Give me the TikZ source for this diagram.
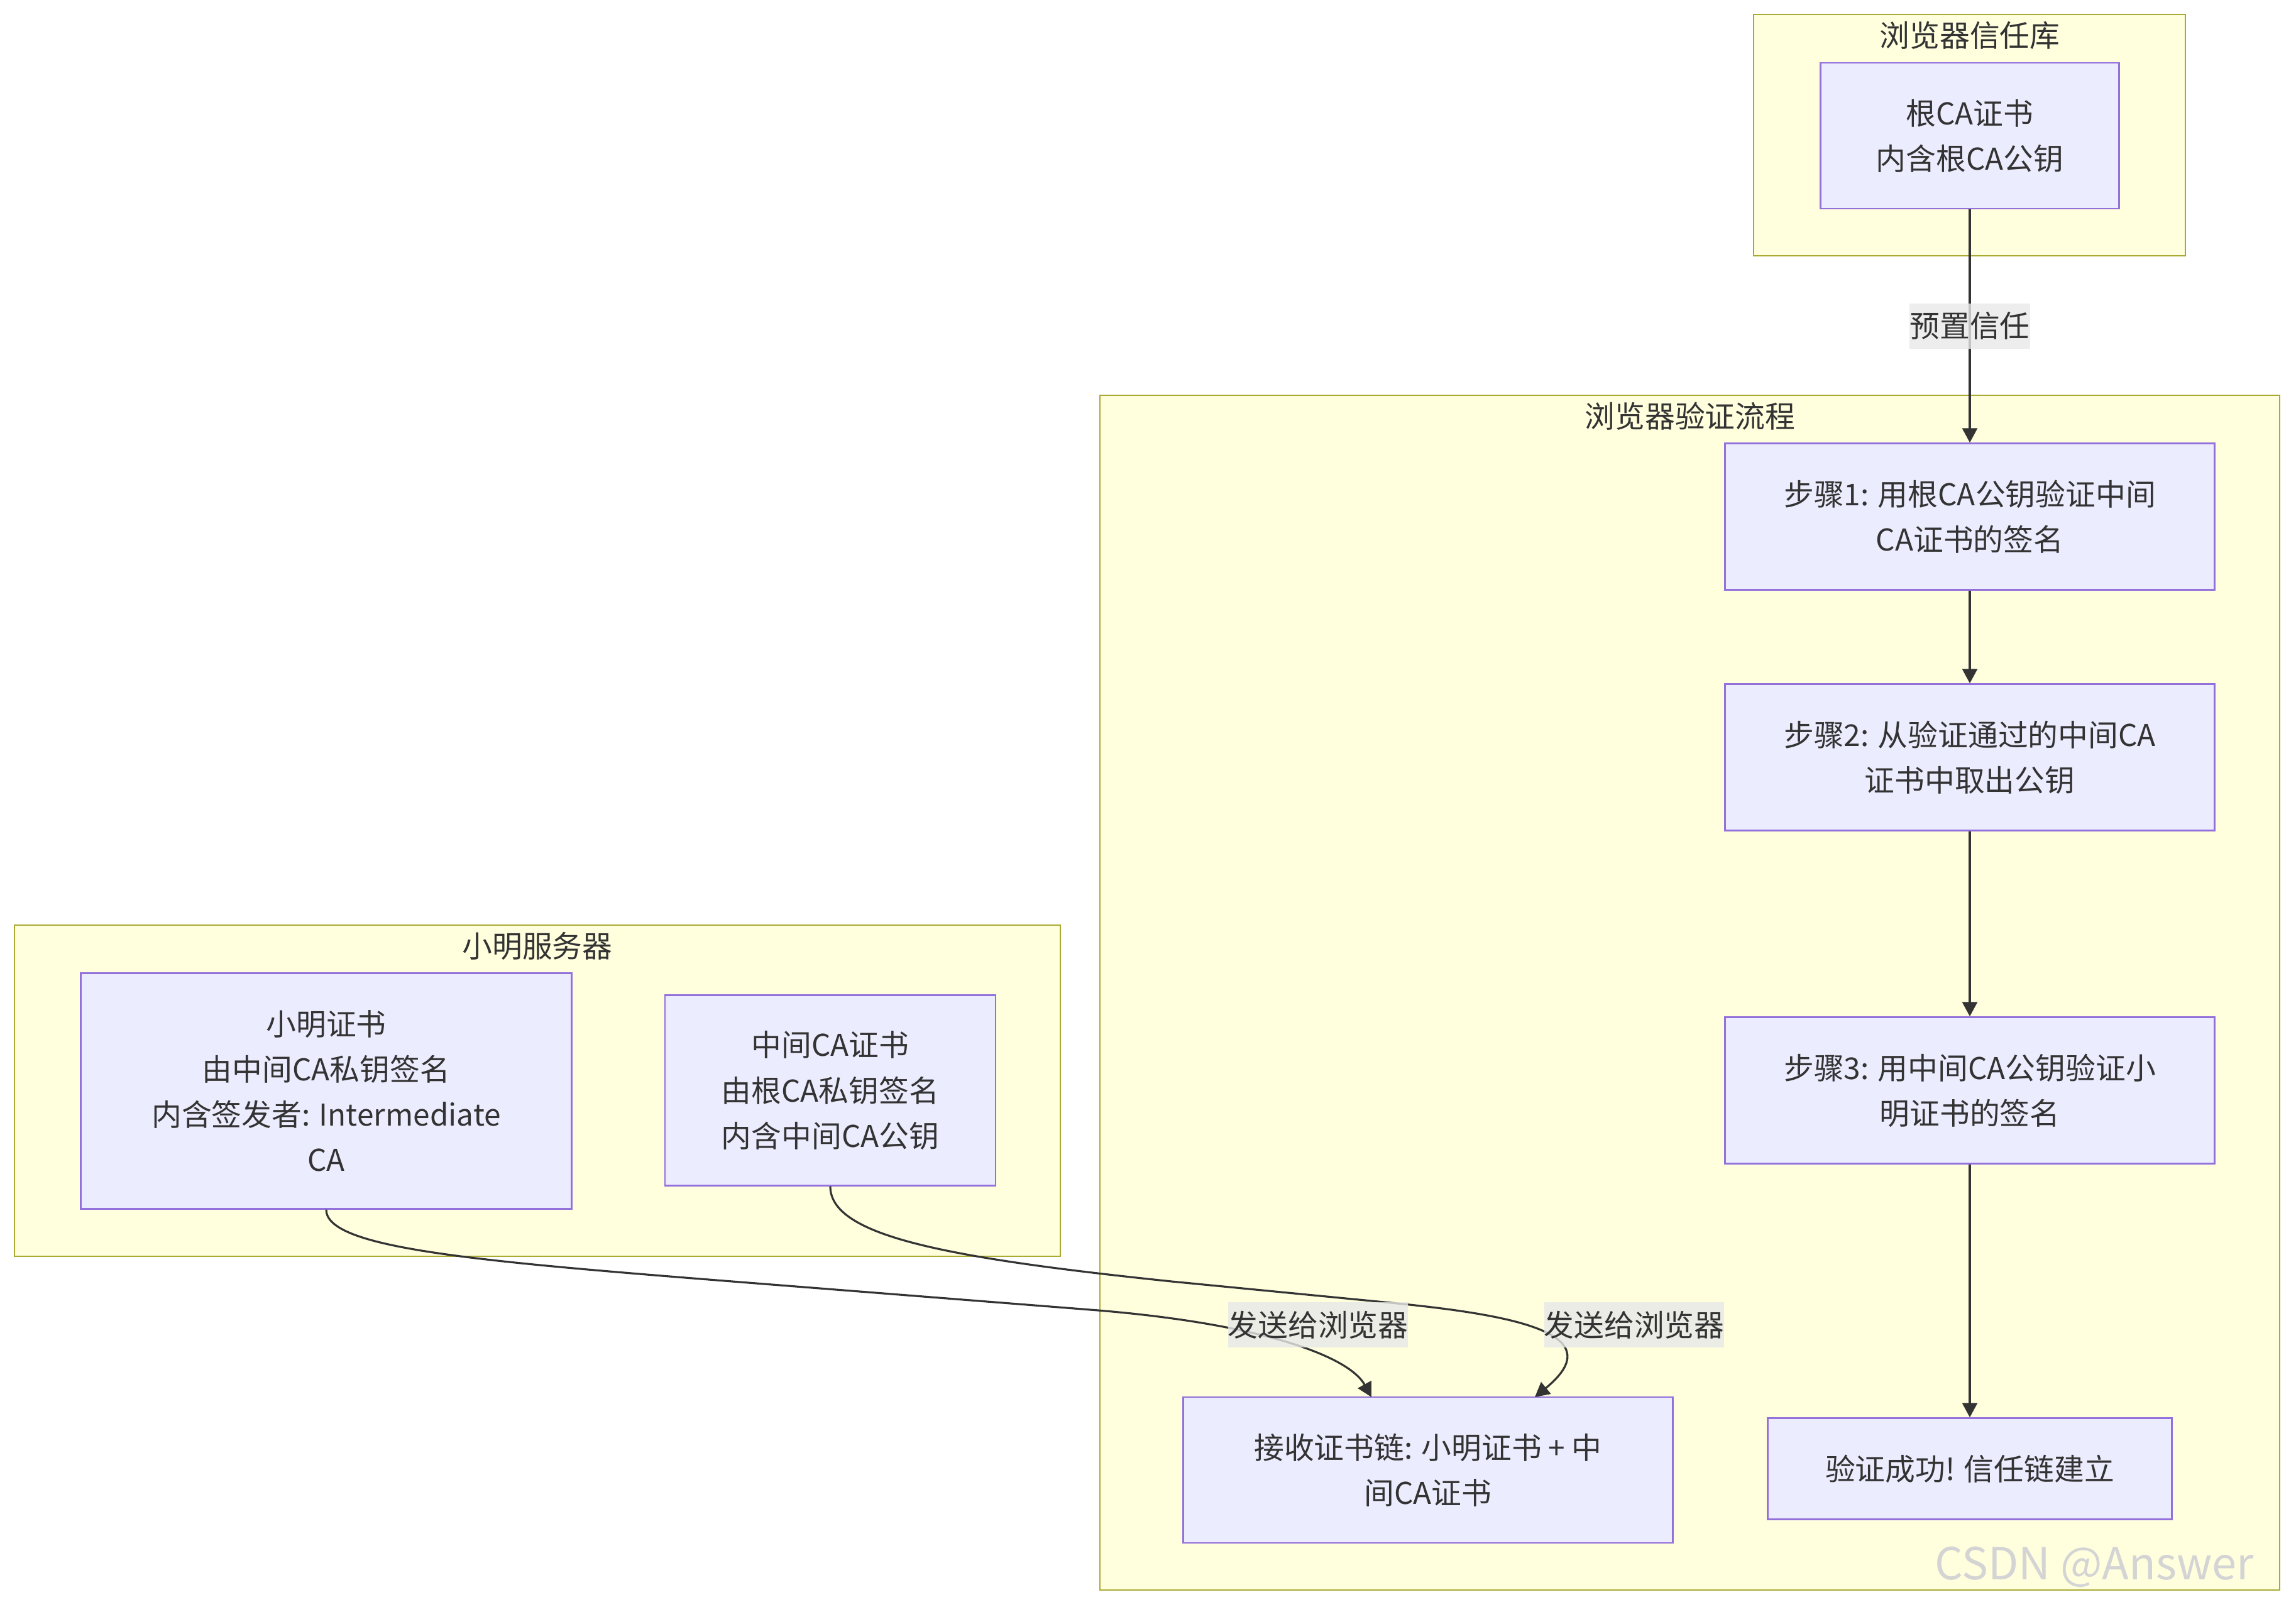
\documentclass[tikz,border=0pt]{standalone}
\usepackage{fontspec}
\setmainfont{Noto Sans CJK SC}
\usetikzlibrary{arrows.meta, positioning}

\definecolor{nofundo}{HTML}{ECECFF}
\definecolor{noborda}{HTML}{9370DB}
\definecolor{grfundo}{HTML}{FFFFDE}
\definecolor{grborda}{HTML}{AAAA33}
\definecolor{rotfundo}{HTML}{E8E8E8}
\definecolor{texto}{HTML}{333333}
\definecolor{marca}{HTML}{D4D4D4}

\begin{document}
\begin{tikzpicture}[x=1cm, y=1cm, >={Triangle[length=0.23cm, width=0.24cm]},
    caixa/.style={draw=noborda, fill=nofundo, line width=0.7pt, text=texto,
      align=center, inner sep=0pt, font=\fontsize{13.6}{20.5}\selectfont},
    grupo/.style={draw=grborda, fill=grfundo, line width=0.8pt},
    titulo/.style={text=texto, inner sep=0pt, font=\fontsize{13.6}{20.5}\selectfont},
    rotulo/.style={fill=rotfundo, fill opacity=0.8, text opacity=1, text=texto,
      inner xsep=0pt, inner ysep=0pt, minimum height=0.72cm,
      font=\fontsize{13.6}{20.5}\selectfont},
    seta/.style={->, draw=texto, line width=0.9pt}]

      \useasboundingbox (0,0) rectangle (36.53,25.56);

      % Grupos
      \draw[grupo] (27.90,21.49) rectangle (34.77,25.33);
      \draw[grupo] (17.50,0.26) rectangle (36.27,19.27);
      \draw[grupo] (0.23,5.57) rectangle (16.87,10.84);

      % Titulos dos grupos
      \node[titulo] (tconf) at (31.34,25.00) {浏览器信任库};
      \node[titulo] (tverif) at (26.89,18.94) {浏览器验证流程};
      \node[titulo] (tserv) at (8.55,10.51) {小明服务器};

      % Certificado raiz
      \node[caixa, minimum width=4.75cm, minimum height=2.32cm] (raiz) at (31.34,23.40)
        {根CA证书\\内含根CA公钥};

      % Passos da verificacao
      \node[caixa, minimum width=7.79cm, minimum height=2.33cm] (passo1) at (31.34,17.34)
        {步骤1: 用根CA公钥验证中间\\CA证书的签名};
      \node[caixa, minimum width=7.79cm, minimum height=2.33cm] (passo2) at (31.34,13.51)
        {步骤2: 从验证通过的中间CA\\证书中取出公钥};
      \node[caixa, minimum width=7.79cm, minimum height=2.33cm] (passo3) at (31.34,8.21)
        {步骤3: 用中间CA公钥验证小\\明证书的签名};
      \node[caixa, minimum width=6.43cm, minimum height=1.61cm] (sucesso) at (31.34,2.19)
        {验证成功! 信任链建立};
      \node[caixa, minimum width=7.79cm, minimum height=2.32cm] (recebe) at (22.72,2.17)
        {接收证书链: 小明证书 + 中\\间CA证书};

      % Certificados do servidor
      \node[caixa, minimum width=7.81cm, minimum height=3.75cm] (xmcert) at (5.19,8.20)
        {小明证书\\由中间CA私钥签名\\内含签发者: Intermediate\\CA};
      \node[caixa, minimum width=5.26cm, minimum height=3.03cm] (intcert) at (13.21,8.21)
        {中间CA证书\\由根CA私钥签名\\内含中间CA公钥};

      % Setas verticais
      \draw[seta] (raiz) -- (passo1)
        node[rotulo, midway] (preset) {预置信任};
      \draw[seta] (passo1) -- (passo2);
      \draw[seta] (passo2) -- (passo3);
      \draw[seta] (passo3) -- (sucesso);

      % Envio da cadeia ao navegador
      \coordinate (chega1) at (21.82,3.33);
      \coordinate (chega2) at (24.42,3.33);
      \draw[seta] (xmcert.south) .. controls (5.19,5.70) and (7.50,5.50) .. (11.65,5.17)
        -- (17.47,4.71) .. controls (20.00,4.50) and (21.45,4.00) .. (chega1);
      \draw[seta] (intcert.south) .. controls (13.21,5.90) and (15.00,5.55) .. (18.64,5.17)
        -- (22.13,4.83) .. controls (24.30,4.62) and (25.60,4.30) .. (chega2);
      \node[rotulo] (envia1) at (20.97,4.48) {发送给浏览器};
      \node[rotulo] (envia2) at (26.00,4.48) {发送给浏览器};

      % Marca d'agua
      \node[text=marca, inner sep=0pt, font=\fontsize{20}{24}\selectfont] (csdn) at (33.32,0.63)
        {CSDN @Answer};

    \end{tikzpicture}
\end{document}
